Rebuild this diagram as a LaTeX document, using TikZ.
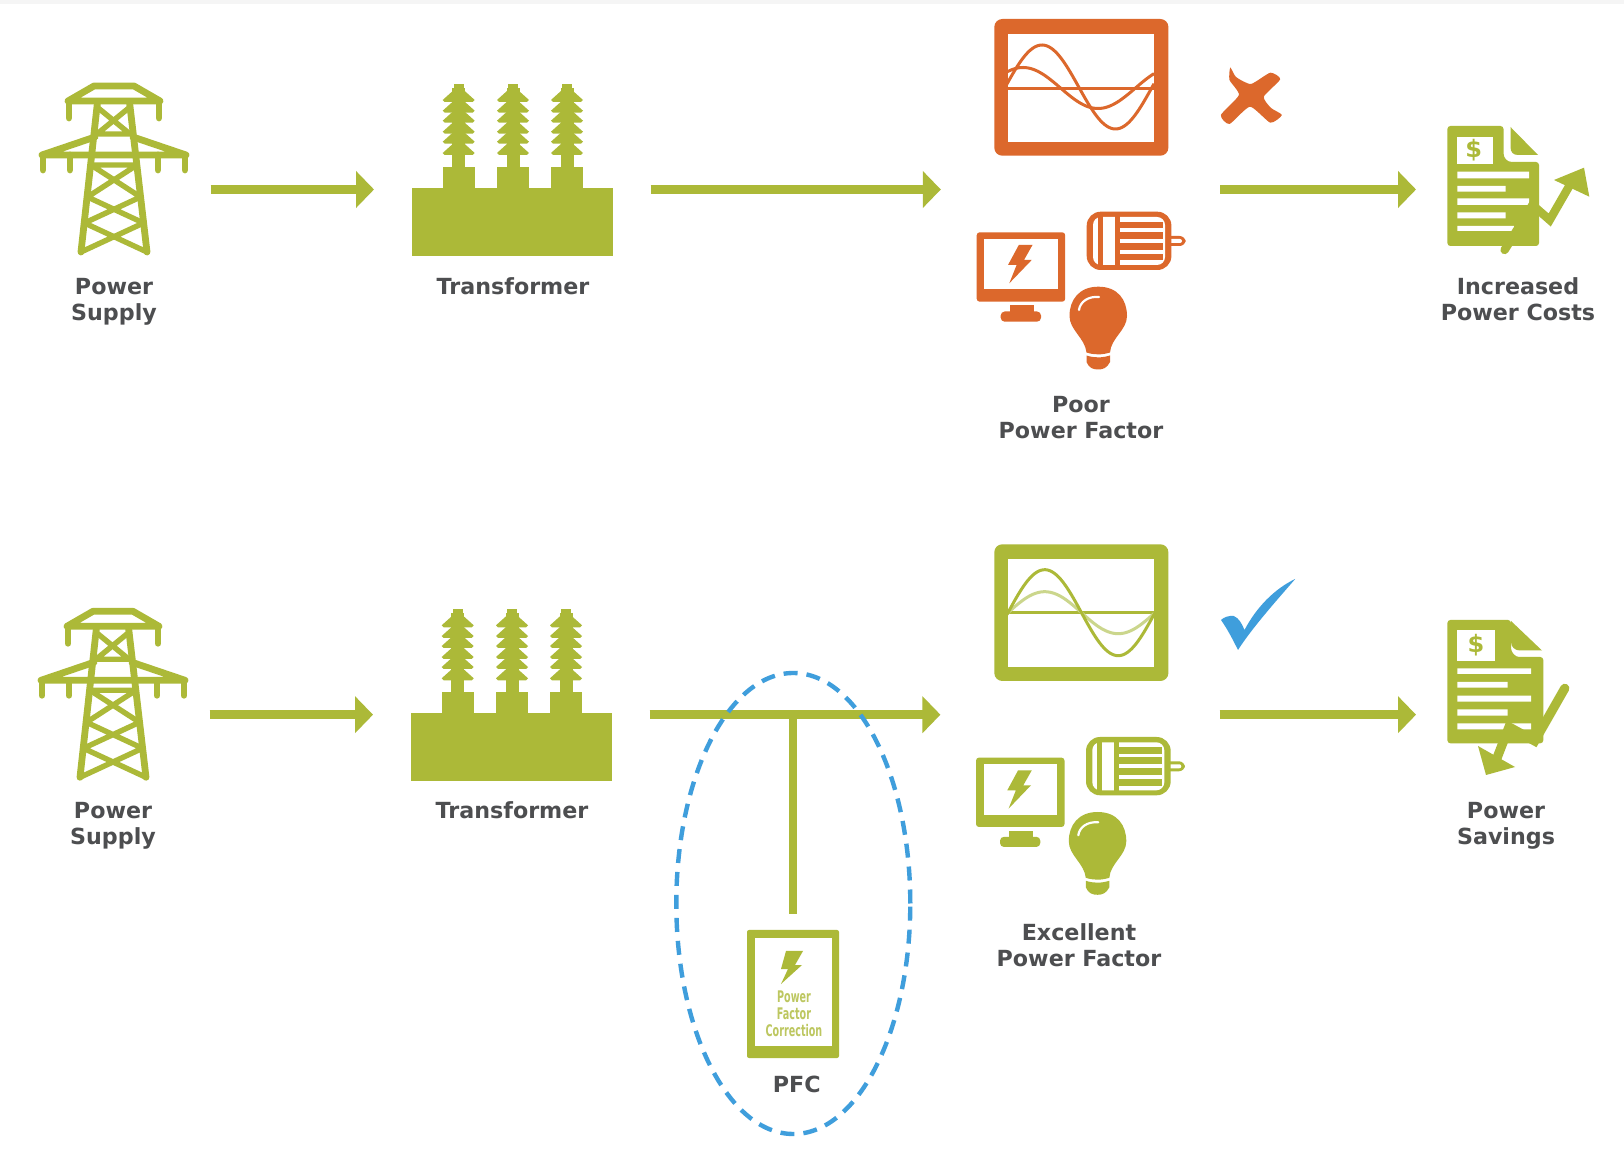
\documentclass[tikz,border=0pt]{standalone}
\usepackage{fontspec}
\setmainfont{DejaVu Sans}
\usetikzlibrary{arrows.meta,shapes.geometric}
\definecolor{lime}{HTML}{ACB938}
\definecolor{rust}{HTML}{DC682C}
\definecolor{sky}{HTML}{3F9EDC}
\definecolor{ink}{HTML}{4D4E50}
\definecolor{palelime}{HTML}{CBD68C}
\tikzset{
  anchorbox/.style={inner sep=0,outer sep=0,minimum height=1pt},
  flow/.style={draw=lime,line width=4.5pt,-{Triangle[length=9pt,width=18pt]}},
  caption/.style={font=\fontsize{11.1}{13}\selectfont\bfseries,text=ink,align=center,inner sep=0},
  struct/.style={draw=lime,line width=3.4pt,line join=round,line cap=round},
  brace/.style={draw=lime,line width=2.7pt,line cap=round}
}
\newcommand{\TowerIcon}{%
  \draw[struct] (69,101)--(95,86)--(135,86)--(161,101)--cycle;
  \draw[struct] (70,101)--(70,118) (160,101)--(160,118);
  \draw[struct] (98.5,102)--(82,252) (130.5,102)--(148,252);
  \draw[struct] (43,155)--(187,155) (43,155)--(96,137) (187,155)--(134,137);
  \draw[struct] (44,155)--(44,170) (71,155)--(71,170) (159,155)--(159,170) (186,155)--(186,170);
  \draw[brace] (98,107)--(131,134) (131,107)--(98,134) (97,134)--(133,134);
  \draw[brace] (92,165)--(138,165) (92,165)--(141.5,197) (138,165)--(88.5,197)
    (88.5,197)--(144.5,223) (141.5,197)--(85.5,223)
    (85.5,223)--(148,252) (144.5,223)--(82,252);
}
\newcommand{\TransformerIcon}{%
  \fill[lime] (412,188) rectangle (613,256);
  \foreach \cx in {458.7,513,567}{
    \fill[lime] ({\cx-16},167) rectangle ({\cx+16},190);
    \fill[lime] ({\cx-6.5},88) rectangle ({\cx+6.5},168);
    \fill[lime] ({\cx-5},84) rectangle ({\cx+5},90);
    \foreach \d in {100,110.7,120.7,131.7,141.7,153}{
      \fill[lime] ({\cx-6},{\d-9})--({\cx+6},{\d-9})--({\cx+16},{\d})--({\cx+14},{\d+2})--({\cx-14},{\d+2})--({\cx-16},{\d})--cycle;
    }
  }
}
% #1 colour of the loads group
\newcommand{\LoadIcons}[1]{%
  % computer
  \fill[#1,rounded corners=1.5pt] (976.7,232.3) rectangle (1065.2,301.7);
  \fill[white] (984.4,239) rectangle (1057.5,289.3);
  \fill[#1] (1018.8,245)--(1032.5,245)--(1024,260)--(1031.7,260)--(1009.3,283.3)--(1016.6,265)--(1008,265)--cycle;
  \fill[#1] (1010,305.5) rectangle (1034,313);
  \fill[#1,rounded corners=2pt] (1000.7,311.5) rectangle (1041,321.7);
  % motor
  \fill[#1,rounded corners=3pt] (1160,236) rectangle (1185.6,246);
  \fill[white,rounded corners=1pt] (1166,239) rectangle (1182,243);
  \fill[#1,rounded corners=7pt] (1086.7,211.7) rectangle (1171.4,270);
  \fill[white,rounded corners=4pt] (1093,217) rectangle (1165,265);
  \fill[#1] (1097.5,215) rectangle (1102.5,267);
  \fill[#1] (1115,215) rectangle (1120,267);
  \foreach \s in {225,235.5,246.5,257}{
    \fill[#1] (1120,{\s-3.3}) rectangle (1163,{\s+3.3});
  }
  % bulb
  \fill[#1] (1098.3,286.7) .. controls (1118,286.7) and (1127,300) .. (1127,316)
    .. controls (1127,330) and (1111,338) .. (1110,352.5)
    .. controls (1102,355) and (1094,355) .. (1086.5,352.5)
    .. controls (1085,338) and (1069.5,330) .. (1069.5,316)
    .. controls (1069.5,300) and (1079,286.7) .. (1098.3,286.7) -- cycle;
  \fill[#1] (1086.5,355.5) .. controls (1094,358) and (1102,358) .. (1110,355.5)
    -- (1110,362) .. controls (1107,368) and (1103,369.5) .. (1098.3,369.5)
    .. controls (1093,369.5) and (1089,368) .. (1086.5,362) -- cycle;
  \draw[white,line width=1.1pt,line cap=round] (1079,310) .. controls (1080,302) and (1088,296) .. (1099,297);
}
\newcommand{\ScopeFrame}[1]{%
  \fill[#1,rounded corners=4pt] (994.3,19) rectangle (1168.4,155.7);
  \fill[white] (1008,34) rectangle (1153.8,141.7);
}
\begin{document}
\begin{tikzpicture}[x=0.5pt,y=-0.5pt]
\useasboundingbox (0,0) rectangle (1624,1154);
\fill[white] (0,0) rectangle (1624,1154);
\fill[black!4] (0,0) rectangle (1624,4);

% ---------- top row ----------
\begin{scope}[shift={(-1,0)}]
\TowerIcon
\end{scope}
\TransformerIcon
\ScopeFrame{rust}
\begin{scope}
  \clip (1008,34) rectangle (1153.8,141.7);
  \draw[rust,line width=1.5pt] (1008,88.3)--(1153.8,88.3);
  \draw[rust,line width=1.5pt,smooth,samples=70,domain=1006:1154] plot (\x,{88-20.5*cos(2.4*(\x-1023))});
  \draw[rust,line width=1.5pt,smooth,samples=70,domain=1006:1154] plot (\x,{87-42*cos(2.45*(\x-1042))});
\end{scope}
\fill[rust] plot[smooth cycle,tension=.35] coordinates {(1230.3,67.5) (1236,77) (1250.9,84) (1270.3,72.7) (1280.2,79.3) (1263.8,96.7) (1271,108) (1281.9,115) (1270.3,122.7) (1250,106.7) (1229.5,124) (1220.9,115) (1238.9,95) (1229.5,80)};
\LoadIcons{rust}
% invoice with rising arrow
\fill[lime,rounded corners=1.5pt] (1447.4,126)--(1503.5,126)--(1503.5,150) .. controls (1503.5,158) and (1507,162) .. (1515,162)--(1539,162)--(1539,246)--(1447.4,246)--cycle;
\fill[lime] (1510.5,127)--(1538,155)--(1518,155) .. controls (1513,155) and (1510.5,152) .. (1510.5,147)--cycle;
\fill[white] (1457.3,136.7) rectangle (1492.5,164);
\node[font=\fontsize{12}{12}\selectfont\bfseries,text=lime,inner sep=0] (dollarA) at (1473.6,150) {\$};
\fill[white] (1457.3,171.7) rectangle (1529,178.3) (1457.3,186) rectangle (1505.5,191.7)
  (1457.3,198.3) rectangle (1529,205) (1457.3,212.3) rectangle (1505.5,218.3)
  (1457.3,226) rectangle (1514,231);
\draw[lime,line width=4.2pt,line cap=round,line join=miter] (1504.6,250)--(1532.5,205)--(1549.7,220)--(1571,183);
\fill[lime] (1584,167.7)--(1589.3,196.7)--(1554,180)--cycle;

% ---------- bottom row ----------
\begin{scope}[shift={(-2,525.3)}]
\TowerIcon
\end{scope}
\begin{scope}[shift={(-1,525.3)}]
\TransformerIcon
\end{scope}
\begin{scope}[shift={(0,525.3)}]
\ScopeFrame{lime}
\end{scope}
\begin{scope}
  \clip (1008,559.3) rectangle (1153.8,667);
  \draw[lime,line width=1.5pt] (1008,612.7)--(1153.8,612.7);
  \draw[palelime,line width=1.5pt,smooth,samples=70,domain=1007:1155] plot (\x,{612.7-21*sin(2.45*(\x-1008))});
  \draw[lime,line width=1.5pt,smooth,samples=70,domain=1007:1155] plot (\x,{612.7-43*sin(2.45*(\x-1008))});
\end{scope}
\fill[sky] (1295.2,579) .. controls (1274,589) and (1256,608) .. (1244.5,630)
  .. controls (1242,624) and (1239,618) .. (1233.7,616)
  .. controls (1229,615.5) and (1224,617) .. (1221,620)
  .. controls (1228,630) and (1233,640) .. (1238,650)
  .. controls (1252,628) and (1277,600) .. (1295.2,579) -- cycle;
\begin{scope}[shift={(-0.7,525.3)}]
\LoadIcons{lime}
\end{scope}
% invoice with falling arrow
\fill[lime,rounded corners=1.5pt] (1447.4,620)--(1511,620)--(1511,645) .. controls (1511,652) and (1515,657) .. (1522,657)--(1543.3,657)--(1543.3,743.3)--(1447.4,743.3)--cycle;
\fill[lime] (1511,621)--(1542,650.5)--(1520,650.5) .. controls (1515,650.5) and (1511,647) .. (1511,642)--cycle;
\fill[white] (1457.3,630) rectangle (1495,660.7);
\node[font=\fontsize{12}{12}\selectfont\bfseries,text=lime,inner sep=0] (dollarB) at (1476,645) {\$};
\fill[white] (1457.3,668.3) rectangle (1531,674) (1457.3,682) rectangle (1507.6,687.7)
  (1457.3,695.7) rectangle (1531,701.7) (1457.3,709.3) rectangle (1507.6,715.7)
  (1457.3,723.3) rectangle (1531,729.3);
\draw[lime,line width=4.6pt,line cap=round,line join=miter] (1564.8,688.3)--(1534.7,741)--(1509,727)--(1497,758);
\fill[lime] (1486,775)--(1478,746)--(1515,767)--cycle;

% ---------- anchor boxes of the flow ----------
\node[anchorbox,minimum width=96.5pt] (supplyA) at (114,189.5) {};
\node[anchorbox,minimum width=138.25pt] (xfmrA) at (512.25,189.5) {};
\node[anchorbox,minimum width=139.6pt] (monA) at (1080.4,189.5) {};
\node[anchorbox,minimum width=102pt] (docA) at (1518,189.5) {};
\node[anchorbox,minimum width=96.5pt] (supplyB) at (113,714.7) {};
\node[anchorbox,minimum width=138.25pt] (xfmrB) at (511.25,714.7) {};
\node[anchorbox,minimum width=139.6pt] (monB) at (1080,714.7) {};
\node[anchorbox,minimum width=102pt] (docB) at (1518,714.7) {};

\draw[flow] (supplyA.east)--(xfmrA.west);
\draw[flow] (xfmrA.east)--(monA.west);
\draw[flow] (monA.east)--(docA.west);
\draw[flow] (supplyB.east)--(xfmrB.west);
\draw[flow] (xfmrB.east)--(monB.west);
\draw[flow] (monB.east)--(docB.west);

% ---------- PFC unit ----------
\node[fill=lime,rounded corners=1pt,minimum width=46pt,minimum height=64pt,inner sep=0,outer sep=0] (pfc) at (793,994) {};
\fill[white] (755,938) rectangle (832,1046);
\fill[lime] (786,951)--(803,951)--(795,965)--(802,965)--(781,984)--(788,969)--(781,969)--cycle;
\node[font=\fontsize{8}{8.6}\selectfont\bfseries,text=lime!80!white,align=center,inner sep=0,xscale=.6] (pfctext) at (794,1014) {Power\\Factor\\Correction};
\coordinate (tee) at (pfc.north |- xfmrB.east);
\draw[draw=lime,line width=4pt,shorten >=8pt] (tee)--(pfc.north);
\node[ellipse,draw=sky,line width=2.2pt,dash pattern=on 7pt off 4.5pt,minimum width=117pt,minimum height=230.5pt,inner sep=0] (ring) at (793.3,903.5) {};

% ---------- captions ----------
\node[caption] (capSupplyA) at (114,302) {Power\\Supply};
\node[caption] (capXfmrA) at (513,286) {Transformer};
\node[caption] (capPoor) at (1081,418) {Poor\\Power Factor};
\node[caption] (capCosts) at (1518,299) {Increased\\Power Costs};
\node[caption] (capSupplyB) at (113,826) {Power\\Supply};
\node[caption] (capXfmrB) at (512,810) {Transformer};
\node[caption] (capExc) at (1079,945) {Excellent\\Power Factor};
\node[caption] (capSave) at (1506,826) {Power\\Savings};
\node[caption] (capPFC) at (796.7,1084) {PFC};
\end{tikzpicture}
\end{document}
